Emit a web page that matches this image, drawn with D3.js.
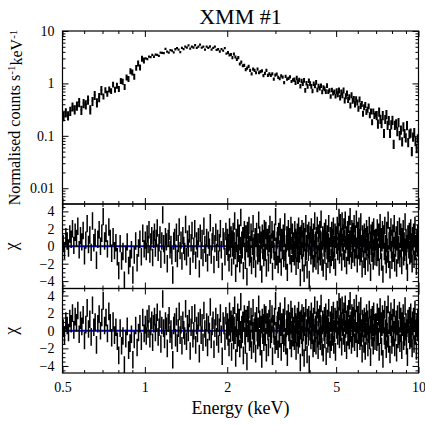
<!DOCTYPE html>
<html>
<head>
<meta charset="utf-8">
<script src="https://cdn.jsdelivr.net/npm/d3@7"></script>
<style>
  html, body { margin: 0; padding: 0; background: #fff; }
  svg { display: block; }
</style>
</head>
<body>
<div id="chart"></div>
<script>
// ── Data ─────────────────────────────────────────────────────────────────────
// Energy segments (keV); bins are log-spaced inside each segment
const segmentEdges  = [0.5, 0.7, 1.0, 2.0, 3.5, 5.0, 7.0, 10.0];
// Spectrum panel binning and fractional errors per segment
const specBins      = [18, 22, 50, 45, 35, 35, 35];
const specRelErr    = [0.2, 0.13, 0.05, 0.07, 0.10, 0.13, 0.2];
// Residual panels use a finer binning
const residBins     = [30, 30, 90, 130, 100, 90, 90];

// Normalised counts s^-1 keV^-1, one per spectrum bin
const rate = [
  0.238, 0.28, 0.244, 0.298, 0.362, 0.32, 0.375, 0.44, 0.311, 0.421, 0.396, 0.488, 0.318, 0.461, 0.60, 0.434, 0.547, 0.746,
  0.568, 0.744, 0.641, 0.771, 0.719, 0.957, 0.763, 0.91, 0.791, 1.119, 1.084, 0.862, 1.312, 1.227, 1.72, 1.622, 1.346, 1.996, 2.421, 2.033, 2.974, 2.75,
  3.02, 2.90, 3.25, 3.19, 3.50, 3.23, 3.55, 3.52, 3.37, 3.88, 3.83, 3.77, 4.55, 4.04, 3.89, 4.32, 4.22, 3.91, 4.49, 4.70, 4.43, 3.95, 4.77, 4.53, 5.02,
  4.82, 5.31, 4.62, 5.03, 4.85, 5.38, 4.76, 5.06, 5.50, 4.81, 5.02, 4.43, 5.03, 4.78, 5.07, 4.40, 4.76, 5.04, 4.38, 4.49, 4.07, 4.52, 4.21, 4.70, 3.69,
  3.90, 3.49, 3.57, 3.11, 3.65, 3.20, 2.87, 3.10, 2.35, 2.55, 2.18, 2.21, 1.84, 1.96, 2.12, 1.78, 1.53, 1.87, 1.77, 1.60, 1.88, 1.60, 1.68,
  1.74, 1.41, 1.56, 1.77, 1.43, 1.53, 1.43, 1.53, 1.21, 1.44, 1.51, 1.31, 1.23, 1.39, 1.32, 1.04, 1.36, 1.21, 1.25, 1.34, 1.09, 1.17,
  1.185, 1.035, 1.271, 1.077, 1.169, 0.890, 1.114, 0.989, 1.147, 0.741, 1.014, 0.882, 1.133, 0.995, 0.881, 0.718, 0.993, 0.895,
  1.052, 0.756, 0.892, 0.812, 0.906, 0.687, 0.840, 0.791, 0.701, 0.912, 0.699, 0.735, 0.564, 0.751, 0.651, 0.693, 0.573,
  0.713, 0.624, 0.738, 0.540, 0.679, 0.596, 0.737, 0.478, 0.572, 0.645, 0.485, 0.547, 0.381, 0.599, 0.470, 0.510, 0.398, 0.503,
  0.437, 0.331, 0.497, 0.375, 0.407, 0.265, 0.355, 0.389, 0.288, 0.316, 0.368, 0.250, 0.294, 0.183, 0.293, 0.240, 0.261,
  0.249, 0.171, 0.288, 0.210, 0.175, 0.248, 0.113, 0.209, 0.258, 0.161, 0.199, 0.113, 0.165, 0.202, 0.070, 0.162, 0.172, 0.122,
  0.183, 0.103, 0.131, 0.078, 0.151, 0.113, 0.093, 0.159, 0.076, 0.110, 0.115, 0.051, 0.096, 0.118, 0.079, 0.058, 0.089,
];

// Residuals (data - model) / error, one per residual bin
const chi = [
  // 0.5 – 0.7 keV
  0.3, -0.5, 1.1, 0.6, -0.2, 1.4, 0.8, 2.0, 0.1, 1.6,
  0.9, 2.3, -0.4, 1.2, 0.5, 1.8, -1.1, 0.7, 2.6, 0.2,
  1.3, -0.7, 2.9, 0.4, 1.0, -1.6, 0.8, 1.9, 0.0, 1.5,
  // 0.7 – 1.0 keV
  3.4, 0.6, 1.5, -0.3, 2.2, 0.9, -0.8, 1.1, -0.5, 0.4,
  -1.2, -2.8, 0.3, -1.7, -0.6, -3.9, -0.9, 0.5, -2.2, -1.4,
  -0.4, -3.3, -1.0, 0.6, -1.9, -0.2, 0.8, -1.2, 1.5, -0.3,
  // 1.0 – 2.0 keV
  0.7, -0.6, 1.4, 0.2, 1.9, -0.9, 0.5, 1.2, -1.3, 0.8,
  1.6, -0.2, 0.9, 2.1, -0.7, 0.4, 1.3, -1.5, 0.6, 3.6,
  0.3, -1.0, 1.1, 0.5, -2.0, 0.9, 1.7, -0.4, 0.2, -1.1,
  -3.3, 0.6, 1.0, -0.8, 1.6, -1.4, 0.3, 2.2, -0.5, 0.7,
  -1.7, 1.2, 0.1, -0.6, 2.5, -1.2, 0.8, -0.2, 1.4, -2.3,
  0.4, 1.8, -0.9, 0.0, 2.0, -1.6, 0.6, -0.3, 1.1, -2.6,
  1.5, -0.5, 0.9, -1.3, 2.3, 0.2, -0.8, 1.0, -1.9, 0.7,
  -0.1, 2.7, -1.0, 0.5, 1.2, -2.1, 0.3, 1.6, -0.7, 0.9,
  -1.5, 0.4, 2.0, -0.4, -2.9, 1.1, 0.6, -1.2, 1.7, 0.0,
  // 2.0 – 3.5 keV
  1.0, -0.7, 0.4, -1.9, 2.2, 0.5, -0.3, 1.3, -2.4, 0.8,
  -0.2, 1.7, -1.1, 0.6, 2.9, -0.5, -3.1, 1.0, 0.3, -1.4,
  2.1, -0.8, 0.5, 1.5, -2.0, 0.1, 3.3, -1.0, 0.7, -0.4,
  1.2, -2.8, 0.9, 1.9, -0.6, -1.6, 1.4, 0.3, -3.5, 1.8,
  -0.3, 0.6, 2.4, -1.3, 0.2, -0.9, 1.6, -2.2, 0.8, 0.0,
  2.6, -1.5, 0.4, -0.6, 1.1, -2.6, 0.9, 1.7, -0.2, -1.1,
  0.5, 3.0, -0.8, 1.3, -1.8, 0.2, 0.7, -3.2, 1.5, -0.5,
  0.9, -1.3, 2.0, 0.1, -0.7, 1.8, -2.5, 0.6, 1.0, -0.1,
  -1.9, 1.4, 0.3, 2.5, -1.0, 0.5, -0.4, 1.9, -2.9, 0.8,
  0.2, -0.6, 1.6, -1.6, 3.4, 0.0, -1.2, 0.7, 1.2, -2.1,
  1.7, -0.3, -0.9, 2.2, 0.4, -2.4, 1.0, -0.5, 0.6, 1.5,
  -1.4, 0.9, 2.8, -0.7, -1.7, 0.3, 1.3, -3.0, 0.5, 2.0,
  -0.2, 1.1, -1.1, 0.6, 2.4, -2.0, 0.1, 1.6, -0.8, 0.4,
  // 3.5 – 5.0 keV
  0.6, -1.2, 1.9, -0.4, 1.0, -2.3, 0.7, -0.8, 1.6, 0.2,
  -1.6, 2.3, 0.5, -0.9, 1.2, -3.6, 0.0, 1.4, -0.5, 2.0,
  -1.9, 0.8, -0.2, 1.7, -3.1, 0.4, 1.1, -1.3, 2.6, -0.6,
  0.3, -2.7, 1.5, 0.9, -0.7, 1.8, -3.8, 0.6, -0.1, 1.3,
  -1.1, 2.2, 0.2, -0.5, 1.0, -2.0, 1.6, 0.4, -1.4, 2.9,
  -0.3, 0.7, -1.7, 1.2, 0.1, 2.4, -0.9, -2.2, 1.5, 0.5,
  -0.6, 1.9, -1.2, 0.8, 3.1, -0.4, -1.8, 0.6, 1.3, -2.5,
  0.9, -0.2, 1.7, -1.0, 0.3, 2.1, -2.9, 0.7, -0.5, 1.4,
  -1.5, 0.5, 2.6, -0.8, 0.0, -2.1, 1.2, 0.9, -1.3, 1.8,
  0.4, -0.7, 1.0, 2.3, -1.6, 0.2, -0.3, 1.6, -2.4, 0.8,
  // 5.0 – 7.0 keV
  1.3, 0.1, 2.4, -0.6, 1.7, 0.5, 3.3, -1.0, 0.8, 2.7,
  -0.2, 1.1, -1.8, 2.9, 0.4, 1.5, -0.6, 2.2, 0.9, -1.4,
  3.0, 0.2, 1.3, -2.2, 0.6, 1.9, -0.7, 0.4, 2.5, -1.1,
  0.8, 3.4, -0.3, 1.2, -1.6, 2.0, 0.5, -0.9, 1.7, 0.3,
  2.6, -1.3, 0.9, 1.4, -0.4, 3.1, 0.0, -2.0, 1.8, 0.7,
  -0.5, 2.3, 0.6, -1.2, 1.0, 2.8, -0.8, 0.3, -2.6, 1.4,
  -0.3, 0.9, -1.5, 1.6, 0.2, -2.3, 1.1, -0.6, 2.0, -0.1,
  1.3, -1.9, 0.5, -0.4, 2.4, -1.1, 0.7, -3.0, 1.5, 0.0,
  -0.8, 1.8, 0.4, -1.7, 2.2, -0.2, 0.9, -1.2, 0.6, 1.0,
  // 7.0 – 10.0 keV
  0.5, -1.3, 2.1, 0.0, -0.7, 1.6, -2.4, 0.8, 2.7, -0.5,
  1.1, -1.8, 0.4, 1.9, -3.2, 0.7, 1.4, -0.6, 2.4, -1.1,
  0.3, -2.1, 1.8, -0.1, -0.9, 3.0, -1.5, 0.6, 1.2, -2.7,
  0.4, 2.2, -0.4, -1.6, 0.9, 1.5, -0.8, 0.1, 2.6, -1.9,
  0.7, -0.2, 1.3, -2.5, 0.5, 1.9, -1.0, 0.2, -0.6, 2.3,
  -1.4, 0.8, 1.6, -0.3, -2.2, 1.1, 0.4, 2.0, -1.2, 0.6,
  -0.7, 2.8, -0.1, 1.0, -1.7, 0.3, -3.0, 1.4, 0.7, -0.4,
  1.7, -1.1, 0.2, 2.1, -0.9, 0.5, -2.0, 1.2, 0.0, 1.6,
  -1.5, 0.9, 2.4, -0.6, 0.3, -2.3, 1.0, -0.2, 1.5, 0.4,
];

// Ticks
const xMajor   = [0.5, 1, 2, 5, 10];
const xMinor   = [0.6, 0.7, 0.8, 0.9, 3, 4, 6, 7, 8, 9];
const yMajor   = [0.01, 0.1, 1, 10];
const yMinor   = [0.006, 0.007, 0.008, 0.009,
                  0.02, 0.03, 0.04, 0.05, 0.06, 0.07, 0.08, 0.09,
                  0.2, 0.3, 0.4, 0.5, 0.6, 0.7, 0.8, 0.9,
                  2, 3, 4, 5, 6, 7, 8, 9];
const chiMajor = [-4, -2, 0, 2, 4];
const chiMinor = [-4.5, -3.5, -3, -2.5, -1.5, -1, -0.5, 0.5, 1, 1.5, 2.5, 3, 3.5, 4.5];

const SERIF = '"Liberation Serif", "Times New Roman", "DejaVu Serif", serif';

// ── Build bins ───────────────────────────────────────────────────────────────
function makeBins(counts) {
  const out = [];
  segmentEdges.slice(0, -1).forEach((lo, s) => {
    const hi = segmentEdges[s + 1];
    const n = counts[s];
    for (let j = 0; j < n; j++) {
      const e0 = lo * Math.pow(hi / lo, j / n);
      const e1 = lo * Math.pow(hi / lo, (j + 1) / n);
      out.push({ e0, e1, e: Math.sqrt(e0 * e1), seg: s });
    }
  });
  return out;
}

const specBinsArr = makeBins(specBins);
specBinsArr.forEach((b, i) => { b.val = rate[i]; b.relErr = specRelErr[b.seg]; });
const residBinsArr = makeBins(residBins);
residBinsArr.forEach((b, i) => { b.val = chi[i]; });

// ── Layout ───────────────────────────────────────────────────────────────────
const W = 425, H = 426;
const left = 62.5, right = 418.5;
const panels = [
  { top: 31,    bottom: 204 },
  { top: 204,   bottom: 288.5 },
  { top: 288.5, bottom: 373 },
];

const svg = d3.select('#chart').append('svg')
  .attr('width', W).attr('height', H)
  .attr('viewBox', `0 0 ${W} ${H}`)
  .attr('font-family', SERIF);

const x = d3.scaleLog().domain([0.5, 10]).range([left, right]);
const yTop = d3.scaleLog().domain([0.005, 10]).range([panels[0].bottom, panels[0].top]);
const yChi1 = d3.scaleLinear().domain([-4.85, 4.85]).range([panels[1].bottom, panels[1].top]);
const yChi2 = d3.scaleLinear().domain([-4.8, 4.8]).range([panels[2].bottom, panels[2].top]);

const defs = svg.append('defs');
panels.forEach((p, i) => {
  defs.append('clipPath').attr('id', `clip${i}`)
    .append('rect')
    .attr('x', left).attr('y', p.top)
    .attr('width', right - left).attr('height', p.bottom - p.top);
});

// ── Data marks ───────────────────────────────────────────────────────────────
function drawBins(g, data, y, lo, hi, width) {
  let d = '';
  data.forEach((b) => {
    d += `M${x(b.e)},${y(lo(b))}V${y(hi(b))}`;
    d += `M${x(b.e0)},${y(b.val)}H${x(b.e1)}`;
  });
  g.append('path')
    .attr('d', d)
    .attr('fill', 'none')
    .attr('stroke', '#000')
    .attr('stroke-width', width);
}

// Spectrum
const g0 = svg.append('g').attr('clip-path', 'url(#clip0)');
drawBins(g0, specBinsArr, yTop,
  (b) => b.val * (1 - b.relErr),
  (b) => b.val * (1 + b.relErr), 2.0);

// Residual panels
[[yChi1, 1], [yChi2, 2]].forEach(([y, i]) => {
  const g = svg.append('g').attr('clip-path', `url(#clip${i})`);
  g.append('line')
    .attr('x1', left).attr('x2', right)
    .attr('y1', y(0)).attr('y2', y(0))
    .attr('stroke', '#0000cc')
    .attr('stroke-width', 1.8);
  drawBins(g, residBinsArr, y, (b) => b.val - 1, (b) => b.val + 1, 1.5);
});

// ── Axes ─────────────────────────────────────────────────────────────────────
function styleAxis(sel) {
  sel.attr('font-family', SERIF).attr('font-size', 14);
  sel.select('.domain').remove();
  sel.selectAll('line').attr('stroke', '#000').attr('stroke-width', 1);
  sel.selectAll('text').attr('fill', '#000');
}

function axis(gen, tx, ty) {
  const g = svg.append('g').attr('transform', `translate(${tx},${ty})`);
  g.call(gen);
  styleAxis(g);
}

function addTicks(p, y, major, minor, labelFn, xLabels) {
  const none = () => '';
  // x ticks, bottom + top, pointing inward
  axis(d3.axisBottom(x).tickValues(xMajor).tickSize(-6).tickPadding(9)
    .tickFormat(xLabels ? (d) => String(d) : none), 0, p.bottom);
  axis(d3.axisBottom(x).tickValues(xMinor).tickSize(-3).tickFormat(none), 0, p.bottom);
  axis(d3.axisTop(x).tickValues(xMajor).tickSize(-6).tickFormat(none), 0, p.top);
  axis(d3.axisTop(x).tickValues(xMinor).tickSize(-3).tickFormat(none), 0, p.top);

  // y ticks, left (labelled) + right
  axis(d3.axisLeft(y).tickValues(major).tickSize(-6).tickPadding(8).tickFormat(labelFn), left, 0);
  axis(d3.axisLeft(y).tickValues(minor).tickSize(-3).tickFormat(none), left, 0);
  axis(d3.axisRight(y).tickValues(major).tickSize(-6).tickFormat(none), right, 0);
  axis(d3.axisRight(y).tickValues(minor).tickSize(-3).tickFormat(none), right, 0);

  // frame
  svg.append('rect')
    .attr('x', left).attr('y', p.top)
    .attr('width', right - left).attr('height', p.bottom - p.top)
    .attr('fill', 'none')
    .attr('stroke', '#000')
    .attr('stroke-width', 1.2);
}

addTicks(panels[0], yTop, yMajor, yMinor, (d) => String(d), false);
addTicks(panels[1], yChi1, chiMajor, chiMinor, d3.format('d'), false);
addTicks(panels[2], yChi2, chiMajor, chiMinor, d3.format('d'), true);

// ── Labels ───────────────────────────────────────────────────────────────────
svg.append('text')
  .attr('x', (left + right) / 2).attr('y', 24)
  .attr('text-anchor', 'middle')
  .attr('font-family', SERIF)
  .attr('font-size', 22)
  .text('XMM #1');

svg.append('text')
  .attr('x', (left + right) / 2).attr('y', 414)
  .attr('text-anchor', 'middle')
  .attr('font-family', SERIF)
  .attr('font-size', 18)
  .text('Energy (keV)');

const yLab = svg.append('text')
  .attr('transform', `translate(20,${(panels[0].top + panels[0].bottom) / 2}) rotate(-90)`)
  .attr('text-anchor', 'middle')
  .attr('font-family', SERIF)
  .attr('font-size', 16);
yLab.append('tspan').text('Normalised counts s');
yLab.append('tspan').attr('dy', '-0.45em').attr('font-size', 11).text('-1');
yLab.append('tspan').attr('dy', '0.45em').text('keV');
yLab.append('tspan').attr('dy', '-0.45em').attr('font-size', 11).text('-1');

[yChi1, yChi2].forEach((y) => {
  svg.append('text')
    .attr('transform', `translate(17,${y(0)}) rotate(-90)`)
    .attr('text-anchor', 'middle')
    .attr('font-family', SERIF)
    .attr('font-size', 18)
    .text('χ');
});
</script>
</body>
</html>
